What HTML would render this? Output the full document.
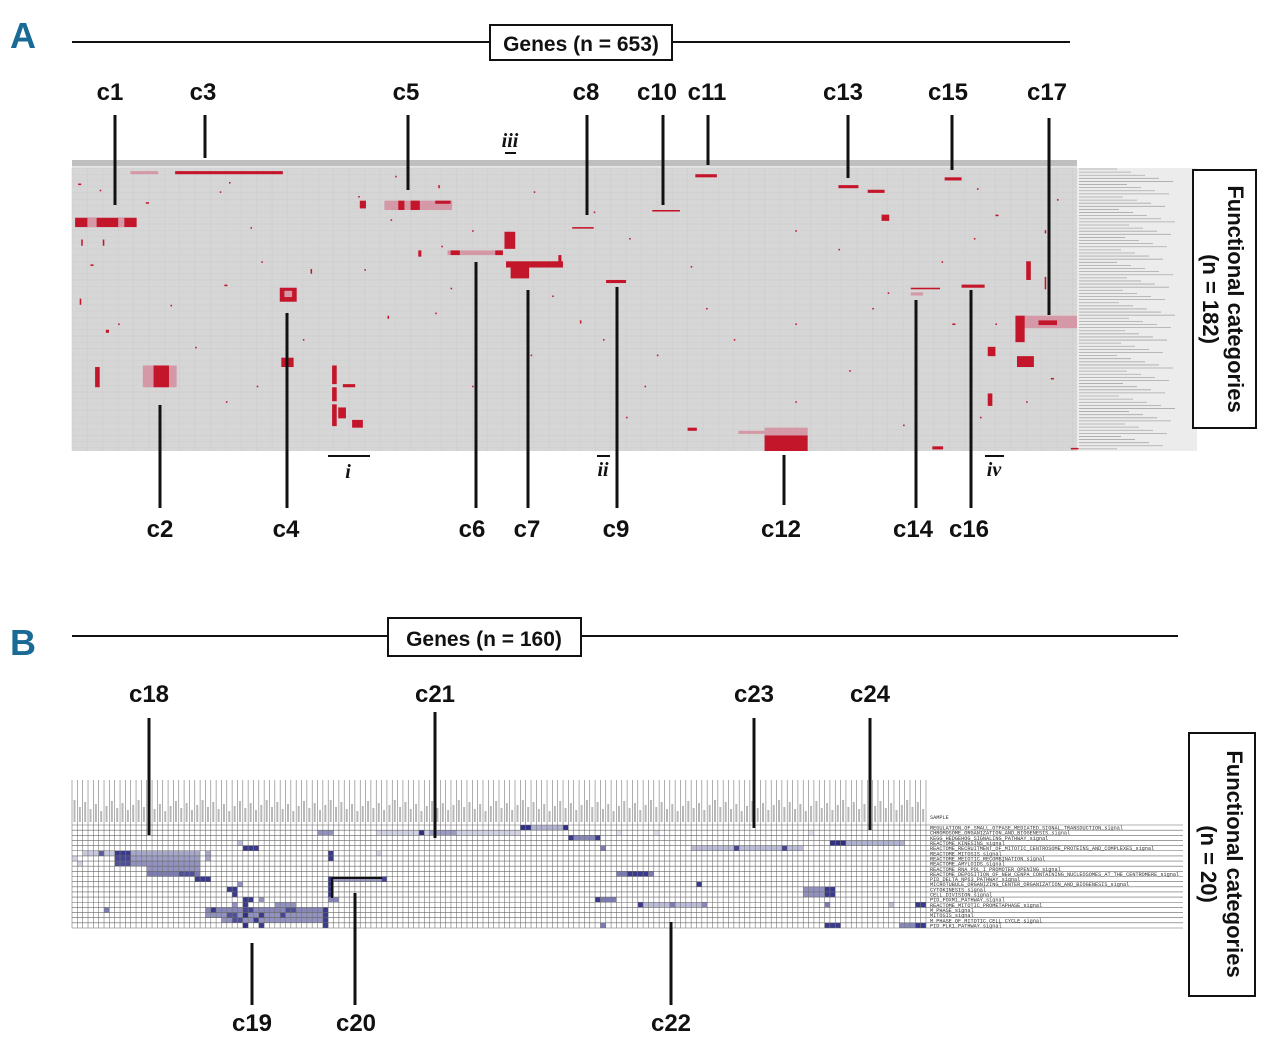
<!DOCTYPE html>
<html><head><meta charset="utf-8"><style>
html,body{margin:0;padding:0;background:#fff;}
svg{display:block;}
.lbl{font-family:"Liberation Sans Narrow","Liberation Sans",sans-serif;font-weight:bold;font-size:24px;fill:#111;}
.pan{font-family:"Liberation Sans Narrow","Liberation Sans",sans-serif;font-weight:bold;font-size:36px;fill:#1a6a96;}
.rom{font-family:"Liberation Serif",serif;font-style:italic;font-weight:bold;font-size:20px;fill:#111;}
.rowlab{font-family:"Liberation Mono",monospace;font-size:5.2px;fill:#333;}
</style></head><body>
<svg id="fig" width="1280" height="1050" viewBox="0 0 1280 1050" xmlns="http://www.w3.org/2000/svg">
<rect width="1280" height="1050" fill="#fff"/>
<!-- Panel A header -->
<text class="pan" x="10" y="48">A</text>
<line x1="72" y1="42" x2="1070" y2="42" stroke="#111" stroke-width="2"/>
<rect x="490" y="25" width="182" height="35" fill="#fff" stroke="#111" stroke-width="2"/>
<text class="lbl" x="581" y="51" text-anchor="middle" style="font-size:21px">Genes (n = 653)</text>
<g id="heatA"></g>
<g id="annA"></g>
<rect x="1193" y="170" width="63" height="258" fill="#fff" stroke="#111" stroke-width="2"/>
<text class="lbl" transform="translate(1228,299) rotate(90)" text-anchor="middle" style="font-size:22px">Functional categories</text>
<text class="lbl" transform="translate(1203,299) rotate(90)" text-anchor="middle" style="font-size:22px">(n = 182)</text>
<!-- Panel B header -->
<text class="pan" x="10" y="655">B</text>
<line x1="72" y1="636" x2="1178" y2="636" stroke="#111" stroke-width="2"/>
<rect x="388" y="618" width="193" height="38" fill="#fff" stroke="#111" stroke-width="2"/>
<text class="lbl" x="484" y="646" text-anchor="middle" style="font-size:21px">Genes (n = 160)</text>
<g id="heatB"></g>
<g id="annB"></g>
<rect x="1189" y="733" width="66" height="263" fill="#fff" stroke="#111" stroke-width="2"/>
<text class="lbl" transform="translate(1227,864) rotate(90)" text-anchor="middle" style="font-size:22px">Functional categories</text>
<text class="lbl" transform="translate(1201,864) rotate(90)" text-anchor="middle" style="font-size:22px">(n = 20)</text>
</svg>
<script>
// ---------- Panel A data: [col,row,width,height,intensity] ----------
const nColsA = 653;
const nRowsA = 182;
const blocksA = [
[67,2,70,2,1],[38,2,18,2,0.5],
[2,32,40,6,1],[10,32,6,6,0.5],[30,32,4,6,0.5],
[203,21,44,6,0.6],[212,21,4,6,1],[220,21,6,6,1],[236,21,10,2,1],[187,21,4,5,1],
[281,41,7,11,1],[244,53,36,3,0.55],[246,53,6,3,1],[275,53,5,3,1],[225,53,2,4,1],
[282,60,37,4,1],[285,62,12,9,1],[316,56,2,5,1],
[135,77,11,9,1],[138,79,5,4,0.5],[136,122,8,6,1],
[46,127,22,14,0.5],[53,127,10,14,1],[15,128,3,13,1],
[169,127,3,12,1],[169,141,3,9,1],[169,152,3,14,1],[173,154,5,7,1],[182,162,7,5,1],[176,139,8,2,1],
[325,38,14,1,1],[347,72,13,2,1],
[405,4,14,2,1],[498,11,13,2,1],[517,14,11,2,1],[526,30,5,4,1],[567,6,11,2,1],[377,27,18,1,1],
[450,167,28,5,0.55],[450,172,28,10,1],[433,169,17,2,0.5],[400,167,6,2,1],
[545,77,19,1,1],[545,80,8,2,0.5],[578,75,15,2,1],
[613,95,40,8,0.55],[613,95,6,17,1],[628,98,12,3,1],[620,60,3,12,1],
[595,115,5,6,1],[614,121,11,7,1],[595,145,3,8,1],[559,179,7,2,1],[649,180,5,1,1],
[4,10,2,1,1],[18,14,1,1,1],[48,22,2,1,1],[20,46,1,4,1],[6,46,1,4,1],[12,62,2,1,1],
[96,15,1,1,1],[116,38,1,1,1],[99,75,2,1,1],[30,100,1,1,1],[5,84,1,4,1],[22,104,2,2,1],
[57,162,1,3,1],[102,9,1,1,1],[123,60,1,1,1],[210,5,1,1,1],[238,11,1,2,1],
[186,18,1,1,1],[207,33,1,1,1],[240,50,1,1,1],[300,15,1,1,1],[339,28,1,1,1],[362,45,1,1,1],
[312,82,1,1,1],[330,98,1,2,1],[345,110,1,1,1],[298,120,1,1,1],[372,140,1,1,1],[402,63,1,1,1],
[430,110,1,1,1],[470,100,1,1,1],[498,52,1,1,1],[520,90,1,1,1],[565,60,1,1,1],[586,45,1,1,1],
[640,20,1,1,1],[632,40,1,2,1],[600,30,2,1,1],[588,13,1,1,1],[505,130,1,1,1],[470,150,1,1,1],
[540,165,1,1,1],[590,160,1,1,1],[620,150,1,1,1],[632,70,1,8,1],[636,135,2,1,1],[412,90,1,1,1],
[380,120,1,1,1],[360,160,1,1,1],[260,140,1,1,1],[236,93,1,1,1],[205,95,1,2,1],[190,65,1,1,1],
[155,65,1,3,1],[150,110,1,1,1],[120,140,1,1,1],[80,115,1,1,1],[64,88,1,1,1],[100,150,1,1,1],
[246,77,1,1,1],[260,40,1,1,1],[470,40,1,1,1],[530,80,1,1,1],[572,100,2,1,1],[600,100,1,1,1]
];
// ---------- Panel B data ----------
const nColsB = 160;
const rowNamesB = ["REGULATION_OF_SMALL_GTPASE_MEDIATED_SIGNAL_TRANSDUCTION_signal","CHROMOSOME_ORGANIZATION_AND_BIOGENESIS_signal","KEGG_HEDGEHOG_SIGNALING_PATHWAY_signal","REACTOME_KINESINS_signal","REACTOME_RECRUITMENT_OF_MITOTIC_CENTROSOME_PROTEINS_AND_COMPLEXES_signal","REACTOME_MITOSIS_signal","REACTOME_MEIOTIC_RECOMBINATION_signal","REACTOME_AMYLOIDS_signal","REACTOME_RNA_POL_I_PROMOTER_OPENING_signal","REACTOME_DEPOSITION_OF_NEW_CENPA_CONTAINING_NUCLEOSOMES_AT_THE_CENTROMERE_signal","PID_DELTA_NP63_PATHWAY_signal","MICROTUBULE_ORGANIZING_CENTER_ORGANIZATION_AND_BIOGENESIS_signal","CYTOKINESIS_signal","CELL_DIVISION_signal","PID_FOXM1_PATHWAY_signal","REACTOME_MITOTIC_PROMETAPHASE_signal","M_PHASE_signal","MITOSIS_signal","M_PHASE_OF_MITOTIC_CELL_CYCLE_signal","PID_PLK1_PATHWAY_signal"];
// [row, colStart, colEnd, intensity 0..1]
const cellsB = [
[0,84,85,0.95],[0,86,91,0.35],[0,92,92,0.95],
[1,46,48,0.5],[1,57,83,0.2],[1,65,65,0.95],[1,67,71,0.45],[1,102,102,0.15],[1,109,109,0.15],[1,138,138,0.15],
[2,93,98,0.55],[2,93,93,0.9],[2,98,98,0.9],
[3,31,31,0.3],[3,142,144,0.95],[3,145,155,0.35],
[4,32,34,0.9],[4,99,99,0.6],[4,116,136,0.3],[4,124,124,0.85],[4,133,133,0.85],
[5,2,7,0.25],[5,5,5,0.75],[5,8,10,0.9],[5,11,23,0.4],[5,25,25,0.4],[5,48,48,0.9],[5,57,57,0.2],
[6,0,0,0.2],[6,8,10,0.85],[6,11,23,0.45],[6,25,25,0.4],[6,48,48,0.9],
[7,1,1,0.2],[7,8,10,0.8],[7,11,23,0.5],
[8,14,23,0.5],
[9,14,23,0.6],[9,20,22,0.8],[9,102,108,0.6],[9,104,107,0.9],
[10,23,25,0.9],[10,48,58,0.45],[10,58,58,0.85],[10,48,48,0.95],
[11,31,31,0.5],[11,48,48,0.95],[11,117,117,0.9],
[12,29,30,0.9],[12,48,48,0.95],[12,137,142,0.5],[12,141,142,0.9],
[13,30,30,0.9],[13,48,48,0.95],[13,137,142,0.5],[13,141,142,0.9],
[14,32,33,0.9],[14,35,35,0.5],[14,48,49,0.55],[14,98,98,0.9],[14,99,101,0.6],
[15,30,30,0.5],[15,32,32,0.9],[15,38,41,0.5],[15,106,106,0.9],[15,107,118,0.3],[15,112,112,0.6],[15,118,118,0.55],[15,141,141,0.6],[15,153,153,0.3],[15,158,159,0.9],
[16,6,6,0.6],[16,25,47,0.55],[16,26,26,0.9],[16,32,33,0.85],[16,40,41,0.8],[16,47,47,0.9],
[17,25,47,0.5],[17,29,30,0.8],[17,32,32,0.95],[17,35,35,0.9],[17,39,39,0.85],[17,47,47,0.9],
[18,28,47,0.5],[18,30,31,0.8],[18,34,34,0.9],[18,47,47,0.9],
[19,32,32,0.95],[19,35,35,0.9],[19,47,47,0.9],[19,99,99,0.6],[19,141,143,0.9],[19,155,157,0.55],[19,158,159,0.9]
];
// ---------- helpers ----------
const NS="http://www.w3.org/2000/svg";
function mk(tag,attrs,parent){const e=document.createElementNS(NS,tag);for(const k in attrs)e.setAttribute(k,attrs[k]);parent.appendChild(e);return e;}
// Panel A axis
const ax0=72, ax1=1077, ay0=168, ay1=451;
const cwA=(ax1-ax0)/nColsA, rhA=(ay1-ay0)/nRowsA;
function xA(c){return ax0+c*cwA;}
function yA(r){return ay0+r*rhA;}
const gA=document.getElementById('heatA');
const bgA=mk('rect',{x:ax0,y:ay0,width:ax1-ax0,height:ay1-ay0,fill:'#d6d6d6'},gA);


const hdr=mk('rect',{x:ax0,y:160,width:ax1-ax0,height:8,fill:'#bfbfbf'},gA);


mk('rect',{x:ax0,y:166,width:ax1-ax0,height:2,fill:'#e6e6e6'},gA);
for(let c=0;c<nColsA;c+=10){mk('line',{x1:xA(c),y1:ay0,x2:xA(c),y2:ay1,stroke:'#cbcbcb','stroke-width':0.5},gA);}
for(let r=0;r<nRowsA;r+=4){mk('line',{x1:ax0,y1:yA(r),x2:ax1,y2:yA(r),stroke:'#cdcdcd','stroke-width':0.5},gA);}
const lab=mk('rect',{x:ax1,y:ay0,width:120,height:ay1-ay0,fill:'#ececec'},gA);


for(let r=0;r<nRowsA;r+=2){mk('line',{x1:ax1+2,y1:yA(r)+1,x2:ax1+40+((r*37)%60),y2:yA(r)+1,stroke:'#a8a8a8','stroke-width':0.8},gA);}
blocksA.forEach(b=>{
  const col=b[4]>=0.8?'#c4162a':'#d498a6';
  const e=mk('rect',{x:xA(b[0]),y:yA(b[1]),width:Math.max(b[2]*cwA,1.3),height:Math.max(b[3]*rhA,1.3),fill:col},gA);
  
  
});
// Panel B axis
const bx0=72, bx1=926, by0=825, by1=928, bh0=780;
const cwB=(bx1-bx0)/nColsB, rhB=(by1-by0)/rowNamesB.length;
function xB(c){return bx0+c*cwB;}
function yB(r){return by0+r*rhB;}
function colB(v){const a=[255,255,255],b=[36,36,128];return 'rgb('+a.map((x,i)=>Math.round(x+(b[i]-x)*v)).join(',')+')';}
const gB=document.getElementById('heatB');
cellsB.forEach(c=>{
  const e=mk('rect',{x:xB(c[1]),y:yB(c[0]),width:(c[2]-c[1]+1)*cwB,height:rhB,fill:colB(c[3])},gB);
  
  
});
for(let c=0;c<=nColsB;c++){mk('line',{x1:xB(c),y1:bh0,x2:xB(c),y2:by1,stroke:'#777','stroke-width':0.6},gB);}
for(let r=0;r<=rowNamesB.length;r++){mk('line',{x1:bx0,y1:yB(r),x2:1183,y2:yB(r),stroke:'#666','stroke-width':0.6},gB);}
for(let c=0;c<nColsB;c++){const t=mk('rect',{x:xB(c)+1.5,y:bh0+20+((c*7)%12),width:2,height:22-((c*7)%12),fill:'#b8b8b8'},gB);}
const sm=mk('text',{x:930,y:819,'class':'rowlab'},gB);sm.textContent='SAMPLE';


rowNamesB.forEach((n,i)=>{
  const t=mk('text',{x:930,y:yB(i)+rhB-0.6,'class':'rowlab'},gB);t.textContent=n;
  
  
});
// Annotations
const topA=[["c1",110,115,115,205],["c3",203,205,115,158],["c5",406,408,115,190],["c8",586,587,115,215],["c10",657,663,115,205],["c11",707,708,115,165],["c13",843,848,115,178],["c15",948,952,115,170],["c17",1047,1049,118,315]];
const botA=[["c2",160,160,405,508],["c4",286,287,313,508],["c6",472,476,262,508],["c7",527,528,290,508],["c9",616,617,287,508],["c12",781,784,455,505],["c14",913,916,300,508],["c16",969,971,290,508]];
const topB=[["c18",149,149,718,835],["c21",435,435,712,838],["c23",754,754,718,828],["c24",870,870,718,830]];
const botB=[["c19",252,252,943,1005],["c20",356,355,893,1005],["c22",671,671,922,1005]];
function ann(list,g,ty){list.forEach(a=>{
  const l=mk('line',{x1:a[2],y1:a[3],x2:a[2],y2:a[4],stroke:'#111','stroke-width':3},g);
  
  
  const t=mk('text',{x:a[1],y:ty,'class':'lbl','text-anchor':'middle'},g);t.textContent=a[0];
  
  
});}
const gAA=document.getElementById('annA'), gBB=document.getElementById('annB');
ann(topA,gAA,100);ann(botA,gAA,537);ann(topB,gBB,702);ann(botB,gBB,1031);
const roms=[["iii",510,147,505,516,153],["i",348,478,328,370,456],["ii",603,476,597,610,456],["iv",994,476,985,1004,456]];
roms.forEach(r=>{
  const t=mk('text',{x:r[1],y:r[2],'class':'rom','text-anchor':'middle'},gAA);t.textContent=r[0];
  
  
  mk('line',{x1:r[3],y1:r[5],x2:r[4],y2:r[5],stroke:'#111','stroke-width':2},gAA);
});
// c20 bracket
mk('line',{x1:332,y1:878,x2:382,y2:878,stroke:'#111','stroke-width':2},gBB);
mk('line',{x1:332,y1:878,x2:332,y2:898,stroke:'#111','stroke-width':2},gBB);
</script>
</body></html>
